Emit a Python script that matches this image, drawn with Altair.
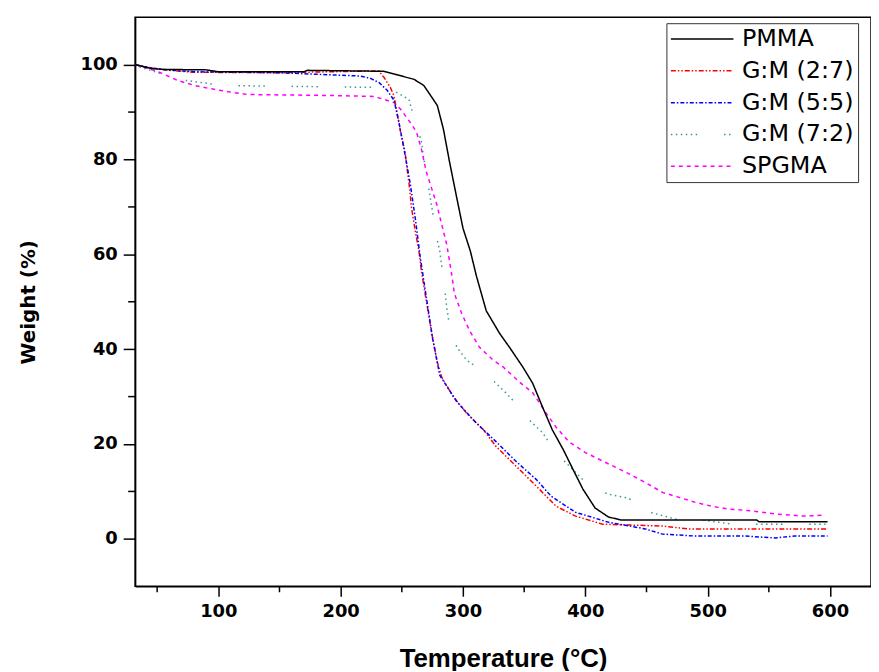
import altair as alt
import pandas as pd

series_names = ["PMMA", "G:M (2:7)", "G:M (5:5)", "G:M (7:2)", "SPGMA"]
series_colors = ["#000000", "#FF0000", "#0000FF", "#339999", "#FF00FF"]
series_dashes = [[1, 0], [5, 2, 1.5, 2, 1.5, 2], [4, 2, 1.5, 2],
                 [1.5, 3.5, 1.5, 3.5, 1.5, 3.5, 1.5, 3.5, 1.5, 3.5, 1.5, 27], [4, 4]]

pmma_T = [32, 45, 55, 90, 100, 170, 173, 235, 244, 260, 268, 273, 279, 284, 289, 295, 300, 306, 311,
          319, 330, 338, 349, 357, 365, 373, 382, 390, 398, 408, 419, 429, 440, 540, 542, 598]
pmma_W = [100, 99.2, 99.0, 98.9, 98.5, 98.5, 98.8, 98.6, 98.0, 96.9, 95.6, 93.7, 91.4, 86.4, 79.5,
          71.8, 65.5, 60.7, 55.4, 48.1, 43.3, 40.4, 36.2, 32.8, 27.8, 23.0, 18.8, 14.6, 10.5, 6.5,
          4.6, 4.0, 4.0, 4.0, 3.6, 3.6]

gm27_T = [32, 45, 60, 80, 150, 231, 235.5, 240.6, 243.5, 246, 249, 252.6, 256, 258, 261, 264, 266,
          270, 274.5, 278.6, 282.6, 292, 303, 316.7, 327, 343.5, 360, 376, 392, 414, 463, 484, 598]
gm27_W = [100, 99.3, 98.8, 98.4, 98.3, 98.7, 97.3, 95.2, 93.5, 90.0, 85.8, 81.6, 74.7, 69.7, 64.9,
          60.7, 56.5, 50.2, 43.3, 37.7, 34.1, 30.0, 26.5, 23.0, 19.5, 15.3, 11.1, 6.9, 4.8, 3.1,
          2.7, 2.1, 2.1]

gm55_T = [32, 43, 54, 80, 150, 216, 224.5, 231.5, 238, 243.6, 247.6, 251.8, 257, 261, 265, 270, 275,
          281, 295, 311, 327, 343.5, 360, 372, 392, 419, 449, 463, 490, 530, 555, 571, 598]
gm55_W = [100, 99.4, 99.0, 98.5, 98.3, 97.6, 97.1, 96.2, 94.6, 92.5, 87.9, 82.2, 74.7, 67.6, 59.5,
          51.0, 42.5, 34.5, 28.9, 24.4, 20.5, 16.3, 12.5, 9.0, 5.6, 3.5, 2.1, 1.0, 0.6, 0.6, 0.2,
          0.6, 0.6]

gm72_T = [32, 37, 51, 67.5, 81, 105, 230, 240.6, 246, 255.8, 258, 262, 266, 268, 272, 276, 278.6,
          281, 285, 286.7, 289, 295, 303, 316.7, 327, 335, 346, 354, 365, 376, 404, 419, 435, 441,
          442.5, 453, 476, 498, 520, 598]
gm72_W = [100, 99.4, 98.3, 96.9, 96.4, 95.6, 95.2, 95.2, 94.1, 92.7, 90.6, 87.2, 83.7, 80.1, 73.8,
          67.6, 63.4, 60.7, 53.0, 48.8, 45.0, 40.4, 37.7, 35.2, 32.8, 30.8, 27.8, 25.1, 22.4, 18.2,
          10.9, 9.4, 8.6, 7.7, 6.3, 5.6, 4.0, 3.9, 3.1, 3.1]

spgma_T = [32.6, 51, 67.5, 81, 92, 108, 124, 192, 227, 235, 243.6, 249, 258, 262, 266, 270, 274.5,
           278.6, 282.6, 286.7, 290.7, 293, 299, 305.4, 313.5, 324.6, 333, 346, 357, 368, 376,
           386.5, 400, 416.6, 435, 449, 463, 476, 490, 503, 517, 536, 557, 579, 595]
spgma_W = [100, 98.5, 96.6, 95.6, 95.0, 94.3, 93.7, 93.5, 93.3, 92.7, 92.0, 90.6, 87.4, 85.8, 82.2,
           77.4, 73.8, 70.5, 66.3, 62.1, 55.9, 51.7, 47.5, 43.9, 40.4, 37.7, 36.2, 33.1, 30.8, 26.5,
           23.6, 20.5, 18.2, 16.1, 13.8, 11.9, 9.8, 8.8, 7.7, 6.9, 6.3, 5.9, 5.2, 4.8, 5.0]

x_major = [100, 200, 300, 400, 500, 600]
x_minor = [50, 150, 250, 350, 450, 550]
y_major = [0, 20, 40, 60, 80, 100]
y_minor = [10, 30, 50, 70, 90]

rows = []
for name, T, W in [("G:M (7:2)", gm72_T, gm72_W), ("SPGMA", spgma_T, spgma_W),
                   ("G:M (2:7)", gm27_T, gm27_W), ("G:M (5:5)", gm55_T, gm55_W),
                   ("PMMA", pmma_T, pmma_W)]:
    for i, (t, w) in enumerate(zip(T, W)):
        rows.append({"series": name, "T": t, "W": w, "i": i})
df = pd.DataFrame(rows)

W_PX, H_PX = 741, 573
xscale = alt.Scale(domain=[32, 633.5], nice=False, zero=False)
yscale = alt.Scale(domain=[-10, 110], nice=False, zero=False)

legend = alt.Legend(title=None, orient="none", legendX=535, legendY=6, symbolType="M-4,0H4",
                    symbolSize=248, symbolStrokeWidth=1.5, symbolOffset=20,
                    labelFont="DejaVu Sans", labelFontSize=24, labelColor="black",
                    labelOffset=28, rowPadding=8, padding=4, strokeColor="#333333",
                    fillColor="white", labelLimit=300)

lines = alt.Chart(df).mark_line(strokeWidth=1.5).encode(
    x=alt.X("T:Q", scale=xscale,
            axis=alt.Axis(values=x_major, tickSize=10, labelFont="DejaVu Sans",
                          labelFontWeight="bold", labelFontSize=18, labelPadding=6,
                          labelFlush=False, title="Temperature (°C)",
                          titleFont="Liberation Sans", titleFontSize=26,
                          titleFontWeight="bold", titlePadding=26)),
    y=alt.Y("W:Q", scale=yscale,
            axis=alt.Axis(values=y_major, tickSize=12, labelFont="DejaVu Sans",
                          labelFontWeight="bold", labelFontSize=18, labelPadding=6,
                          labelFlush=False, title="Weight (%)", titleFont="DejaVu Sans",
                          titleFontSize=20, titleFontWeight="bold", titlePadding=42)),
    color=alt.Color("series:N", scale=alt.Scale(domain=series_names, range=series_colors),
                    legend=legend),
    strokeDash=alt.StrokeDash("series:N",
                              scale=alt.Scale(domain=series_names, range=series_dashes),
                              legend=legend),
    detail="series:N",
    order="i:Q",
)

xminor = alt.Chart(pd.DataFrame({"T": x_minor})).mark_rule(color="black", strokeWidth=1.5).encode(
    x=alt.X("T:Q", scale=xscale),
    y=alt.value(H_PX), y2=alt.value(H_PX + 6),
)
yminor = alt.Chart(pd.DataFrame({"W": y_minor})).mark_rule(color="black", strokeWidth=1.5).encode(
    y=alt.Y("W:Q", scale=yscale),
    x=alt.value(0), x2=alt.value(-7),
)

chart = alt.layer(lines, xminor, yminor).properties(
    width=W_PX, height=H_PX,
    autosize=alt.AutoSizeParams(type="none"),
    padding={"left": 128, "top": 7, "right": 0, "bottom": 83},
).configure_view(stroke="black", strokeWidth=1.5).configure_axis(
    grid=False, domainColor="black", domainWidth=1.5, tickColor="black", tickWidth=1.5,
    labelColor="black", titleColor="black",
)

chart.save("out.html", embed_options={"renderer": "svg", "actions": False})
